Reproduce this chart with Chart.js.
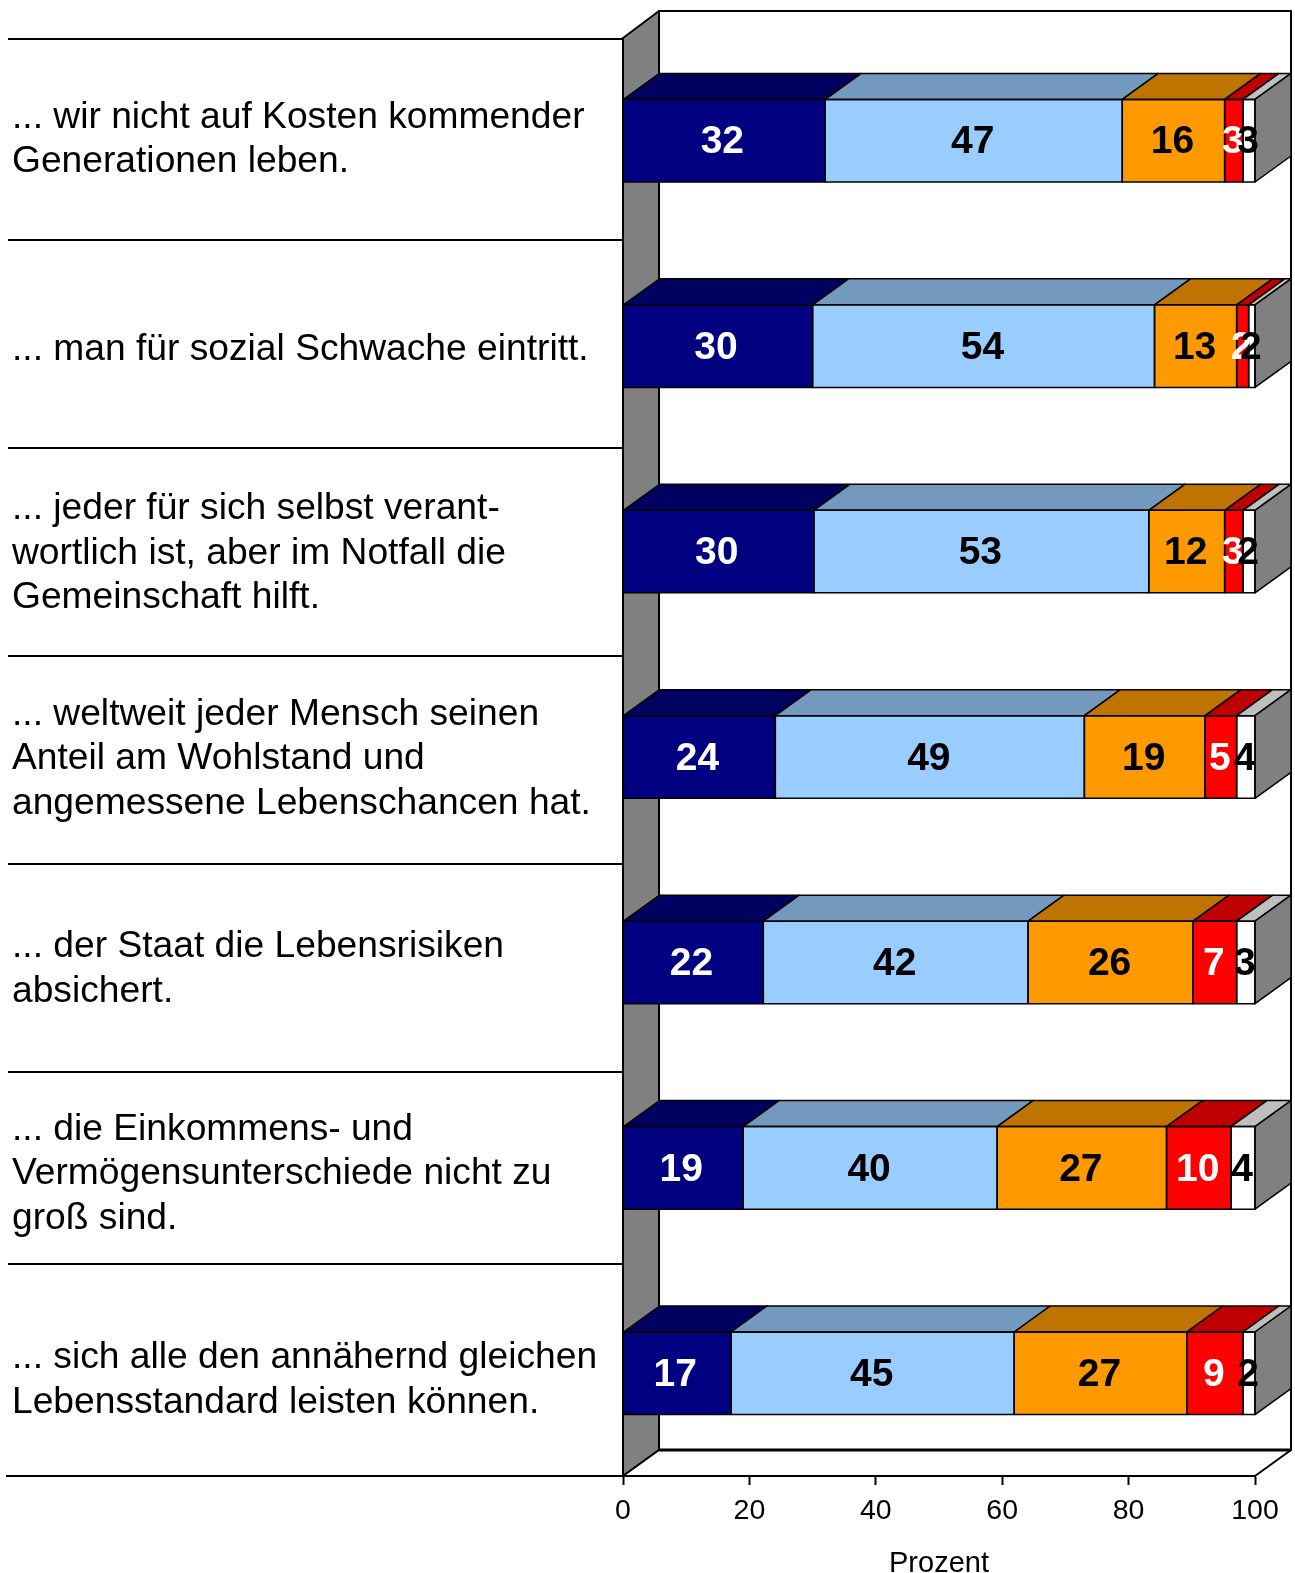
<!DOCTYPE html>
<html lang="de">
<head>
<meta charset="utf-8">
<title>Prozent</title>
<style>
  html, body { margin: 0; padding: 0; background: #fff; }
  canvas { display: block; }
</style>
<script src="https://cdn.jsdelivr.net/npm/chart.js@4/dist/chart.umd.min.js"></script>
</head>
<body>
<canvas id="myChart" width="1295" height="1573"></canvas>
<script>
(function() {

    'use strict';

    var categories = [
        [ '... wir nicht auf Kosten kommender', 'Generationen leben.' ],
        [ '... man für sozial Schwache eintritt.' ],
        [ '... jeder für sich selbst verant-', 'wortlich ist, aber im Notfall die', 'Gemeinschaft hilft.' ],
        [ '... weltweit jeder Mensch seinen', 'Anteil am Wohlstand und', 'angemessene Lebenschancen hat.' ],
        [ '... der Staat die Lebensrisiken', 'absichert.' ],
        [ '... die Einkommens- und', 'Vermögensunterschiede nicht zu', 'groß sind.' ],
        [ '... sich alle den annähernd gleichen', 'Lebensstandard leisten können.' ]
    ];

    // bar lengths as measured, the printed figures are rounded and some rows add up to 101
    var lengthA = [ 32, 30, 30.2, 24.1, 22.2, 19, 17.1 ];
    var lengthB = [ 47, 54.1, 53, 48.9, 41.9, 40.2, 44.8 ];
    var lengthC = [ 16.2, 13, 12, 19.1, 26.1, 26.8, 27.3 ];
    var lengthD = [ 2.9, 1.9, 2.9, 5, 6.9, 10.2, 8.9 ];
    var lengthE = [ 1.9, 1, 1.9, 2.9, 2.9, 3.8, 1.9 ];

    var printedA = [ 32, 30, 30, 24, 22, 19, 17 ];
    var printedB = [ 47, 54, 53, 49, 42, 40, 45 ];
    var printedC = [ 16, 13, 12, 19, 26, 27, 27 ];
    var printedD = [ 3, 2, 3, 5, 7, 10, 9 ];
    var printedE = [ 3, 2, 2, 4, 3, 4, 2 ];

    var axisTicks = [ 0, 20, 40, 60, 80, 100 ];

    var FONT = '"Liberation Sans", Arial, sans-serif';
    var DEPTH_X = 36;
    var DEPTH_Y = 26;
    var SEPARATORS = [ 39, 240, 448, 656, 864, 1072, 1264, 1476 ];
    var LABEL_NUDGE = [ -1, 4, 2, 2, 7, 6, 7 ];

    function face(ctx, points, fill) {
        ctx.beginPath();
        ctx.moveTo(points[0][0], points[0][1]);
        for (var i = 1; i < points.length; i++) {
            ctx.lineTo(points[i][0], points[i][1]);
        }
        ctx.closePath();
        ctx.fillStyle = fill;
        ctx.fill();
        ctx.stroke();
    }

    var walls = {
        id : 'walls',
        beforeDatasetsDraw : function(chart) {
            var ctx = chart.ctx, a = chart.chartArea;
            var backTop = a.top - DEPTH_Y - 1;
            var backBottom = a.bottom - DEPTH_Y;
            ctx.save();
            ctx.strokeStyle = '#000';
            ctx.lineWidth = 2;
            ctx.lineJoin = 'round';
            face(ctx, [ [ a.left + DEPTH_X, backTop ], [ a.right + DEPTH_X, backTop ],
                    [ a.right + DEPTH_X, backBottom ], [ a.left + DEPTH_X, backBottom ] ], '#fff');
            face(ctx, [ [ a.left, a.top ], [ a.left + DEPTH_X, backTop ],
                    [ a.left + DEPTH_X, backBottom ], [ a.left, a.bottom ] ], '#808080');
            face(ctx, [ [ a.left, a.bottom ], [ a.left + DEPTH_X, backBottom ],
                    [ a.right + DEPTH_X, backBottom ], [ a.right, a.bottom ] ], '#fff');

            // the back edge of the floor is heavier in the original
            ctx.lineWidth = 3;
            ctx.beginPath();
            ctx.moveTo(a.left + DEPTH_X, backBottom);
            ctx.lineTo(a.right + DEPTH_X, backBottom);
            ctx.stroke();

            // rules between the statements
            ctx.lineWidth = 2;
            ctx.beginPath();
            SEPARATORS.forEach(function(y, i) {
                ctx.moveTo(i === SEPARATORS.length - 1 ? 6 : 8, y);
                ctx.lineTo(a.left, y);
            });
            ctx.stroke();
            ctx.restore();
        }
    };

    var bars3d = {
        id : 'bars3d',
        afterDatasetsDraw : function(chart) {
            var ctx = chart.ctx;
            ctx.save();
            ctx.strokeStyle = '#000';
            ctx.lineWidth = 1.5;
            ctx.lineJoin = 'round';
            chart.data.datasets.forEach(function(ds, d) {
                chart.getDatasetMeta(d).data.forEach(function(bar) {
                    var top = bar.y - bar.height / 2;
                    var bottom = bar.y + bar.height / 2;
                    face(ctx, [ [ bar.base, top ], [ bar.base + DEPTH_X, top - DEPTH_Y ],
                            [ bar.x + DEPTH_X, top - DEPTH_Y ], [ bar.x, top ] ], ds.topColor);
                    if (d === chart.data.datasets.length - 1) {
                        face(ctx, [ [ bar.x, top ], [ bar.x + DEPTH_X, top - DEPTH_Y ],
                                [ bar.x + DEPTH_X, bottom - DEPTH_Y ], [ bar.x, bottom ] ], '#808080');
                    }
                    // one shared outline, the bars' own borders would double up between segments
                    ctx.strokeRect(bar.base, top, bar.x - bar.base, bar.height);
                });
            });

            // figures go on last, they overlap the neighbour segments and the side face
            ctx.font = 'bold 39px ' + FONT;
            ctx.textAlign = 'center';
            ctx.textBaseline = 'middle';
            chart.data.datasets.forEach(function(ds, d) {
                var shift = d === 0 ? -2 : -1;
                ctx.fillStyle = ds.labelColor;
                chart.getDatasetMeta(d).data.forEach(function(bar, i) {
                    ctx.fillText(ds.printed[i], (bar.base + bar.x) / 2 + shift, bar.y + 2);
                });
            });
            ctx.restore();
        }
    };

    var statements = {
        id : 'statements',
        afterDraw : function(chart) {
            var ctx = chart.ctx, scale = chart.scales.y;
            var lineHeight = 44.5;
            ctx.save();
            ctx.font = '37.2px ' + FONT;
            ctx.fillStyle = '#000';
            ctx.textAlign = 'left';
            ctx.textBaseline = 'middle';
            chart.data.labels.forEach(function(lines, i) {
                var y = scale.getPixelForTick(i) + LABEL_NUDGE[i] - (lines.length - 1) * lineHeight / 2;
                lines.forEach(function(line, l) {
                    ctx.fillText(line, 12, y + l * lineHeight);
                });
            });
            ctx.restore();
        }
    };

    function series(values, printed, color, topColor, labelColor) {
        return {
            data : values,
            printed : printed,
            backgroundColor : color,
            topColor : topColor,
            labelColor : labelColor,
            borderWidth : 0,
            categoryPercentage : 0.402,
            barPercentage : 1
        };
    }

    new Chart(document.getElementById('myChart'), {
        type : 'bar',
        plugins : [ walls, bars3d, statements ],
        data : {
            labels : categories,
            datasets : [
                series(lengthA, printedA, '#000080', '#000060', '#fff'),
                series(lengthB, printedB, '#99CCFF', '#7399BF', '#000'),
                series(lengthC, printedC, '#FF9900', '#BF7300', '#000'),
                series(lengthD, printedD, '#FF0000', '#BF0000', '#fff'),
                series(lengthE, printedE, '#FFFFFF', '#BFBFBF', '#000')
            ]
        },
        options : {
            indexAxis : 'y',
            responsive : false,
            animation : false,
            layout : { padding : { top : 38, right : 40 } },
            plugins : {
                legend : { display : false },
                tooltip : { enabled : false }
            },
            scales : {
                x : {
                    type : 'linear',
                    stacked : true,
                    min : 0,
                    max : 100,
                    afterFit : function(scale) { scale.height = 97; },
                    afterBuildTicks : function(scale) {
                        scale.ticks = axisTicks.map(function(v) { return { value : v }; });
                    },
                    border : { color : '#000', width : 2 },
                    grid : { drawOnChartArea : false, drawTicks : true, tickLength : 9, tickColor : '#000', tickWidth : 2 },
                    ticks : {
                        color : '#000',
                        padding : 9,
                        maxRotation : 0,
                        font : { family : FONT, size : 28.5 }
                    },
                    title : {
                        display : true,
                        text : 'Prozent',
                        color : '#000',
                        padding : { top : 0, bottom : -5 },
                        font : { family : FONT, size : 29, lineHeight : 1 }
                    }
                },
                y : {
                    stacked : true,
                    afterFit : function(scale) { scale.width = 623; },
                    border : { color : '#000', width : 2 },
                    grid : { display : false },
                    ticks : { display : false }
                }
            }
        }
    });

})();
</script>
</body>
</html>
